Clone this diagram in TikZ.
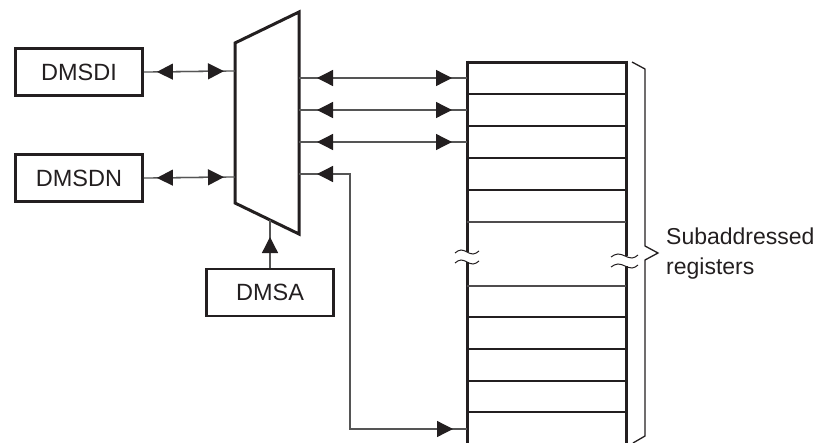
\documentclass[tikz,border=0pt]{standalone}
\usepackage{fontspec}
\setmainfont{Liberation Sans}
\usetikzlibrary{arrows.meta}
\definecolor{ink}{HTML}{231F20}
\definecolor{wire}{HTML}{555555}
\tikzset{
  box/.style={draw=ink, line width=2.8pt, minimum width=127pt, minimum height=47pt, inner sep=0pt, font=\fontsize{23.5}{27}\selectfont, text=ink},
  conn/.style={draw=wire, line width=1.3pt},
  tips/.style={conn, {Triangle[length=16pt,width=16pt,color=ink,fill=ink]}-{Triangle[length=16pt,width=16pt,color=ink,fill=ink]}},
  tipend/.style={conn, -{Triangle[length=16pt,width=16pt,color=ink,fill=ink]}},
  thickrow/.style={draw=ink, line width=1.8pt},
  thinrow/.style={draw=ink!80, line width=1.1pt},
  wall/.style={draw=ink, line width=3pt},
  wiggle/.style={draw=ink, line width=1pt},
}
\begin{document}
\begin{tikzpicture}[x=1pt,y=-1pt]
\useasboundingbox (0,0) rectangle (825,442);
\clip (0,0) rectangle (825,442);

% boxes
\node[box] (dmsdi) at (79,72) {DMSDI};
\node[box] (dmsdn) at (79,178) {DMSDN};
\node[box] (dmsa) at (270,292.5) {DMSA};

% multiplexer
\coordinate (mtl) at (235,43);
\coordinate (mtr) at (299,12);
\coordinate (mbr) at (299,234);
\coordinate (mbl) at (235,203);
\draw[ink, line width=3pt, line join=miter] (mtl) -- (mtr) -- (mbr) -- (mbl) -- cycle;

\coordinate (in1) at (235,71);
\coordinate (in2) at (235,177);
\coordinate (sel) at (270,220);
\coordinate (o1) at (299,78);
\coordinate (o2) at (299,110);
\coordinate (o3) at (299,142);
\coordinate (o4) at (299,174);

% register block
\coordinate (r1) at (467,78);
\coordinate (r2) at (467,110);
\coordinate (r3) at (467,142);
\coordinate (rlast) at (467,429);
\coordinate (bend) at (350,174);

\draw[wall, line cap=rect] (467,62) -- (626,62);
\draw[wall] (467,60.5) -- (467,252);
\draw[wall] (467,262) -- (467,450);
\draw[wall] (626,60.5) -- (626,256);
\draw[wall] (626,266) -- (626,450);
\foreach \y in {94,126,158,190,317,349,381,412}
  \draw[thickrow] (467,\y) -- (626,\y);
\foreach \y in {222,286}
  \draw[thinrow] (467,\y) -- (626,\y);

% break marks
\foreach \y in {252,262}
  \draw[wiggle] (455,\y+1) sin (461,\y-2) cos (467,\y) sin (473,\y+2) cos (479,\y-1);
\foreach \y in {256,266}
  \draw[wiggle] (611,\y+1) sin (618,\y-2) cos (625,\y) sin (632,\y+2) cos (638,\y-1);

% brace
\draw[ink, line width=1.3pt, line join=miter]
  (632,62) -- (645,69) -- (645,246) -- (658,253) -- (645,260) -- (645,436) -- (633,443);
\node[anchor=west, align=left, font=\fontsize{23}{30}\selectfont, text=ink, inner sep=0pt] (lbl) at (666,254)
  {Subaddressed\\registers};

% connectors
\draw[conn] (dmsdi.east) -- (in1);
\draw[tips, shorten <=13pt, shorten >=11pt] (dmsdi.east) -- (in1);
\draw[conn] (dmsdn.east) -- (in2);
\draw[tips, shorten <=13pt, shorten >=11pt] (dmsdn.east) -- (in2);

\draw[conn] (o1) -- (r1);
\draw[tips, shorten <=18pt, shorten >=15pt] (o1) -- (r1);
\draw[conn] (o2) -- (r2);
\draw[tips, shorten <=18pt, shorten >=15pt] (o2) -- (r2);
\draw[conn] (o3) -- (r3);
\draw[tips, shorten <=18pt, shorten >=15pt] (o3) -- (r3);

\draw[conn] (o4) -- (bend) |- (rlast);
\draw[tips, shorten <=18pt, shorten >=14pt] (o4) -- (bend) |- (rlast);

\draw[conn] (dmsa.north) -- (sel);
\draw[tipend, shorten >=17pt] (dmsa.north) -- (sel);
\end{tikzpicture}
\end{document}
